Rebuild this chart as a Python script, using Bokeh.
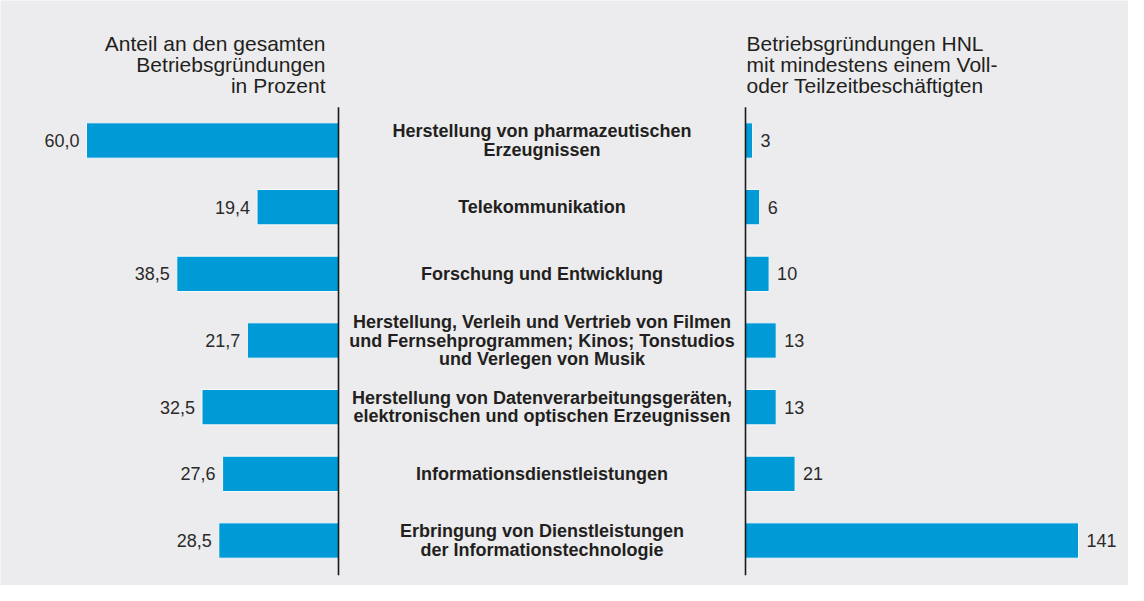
from bokeh.plotting import figure
from bokeh.models import Range1d, ColumnDataSource
from bokeh.core.properties import value
from bokeh.embed import file_html
from bokeh.resources import INLINE

categories = [
    "Herstellung von pharmazeutischen\nErzeugnissen",
    "Telekommunikation",
    "Forschung und Entwicklung",
    "Herstellung, Verleih und Vertrieb von Filmen\nund Fernsehprogrammen; Kinos; Tonstudios\nund Verlegen von Musik",
    "Herstellung von Datenverarbeitungsgeräten,\nelektronischen und optischen Erzeugnissen",
    "Informationsdienstleistungen",
    "Erbringung von Dienstleistungen\nder Informationstechnologie",
]
anteil = [60.0, 19.4, 38.5, 21.7, 32.5, 27.6, 28.5]
gruendungen = [3, 6, 10, 13, 13, 21, 141]
left_title = ["Anteil an den gesamten", "Betriebsgründungen", "in Prozent"]
right_title = ["Betriebsgründungen HNL", "mit mindestens einem Voll-", "oder Teilzeitbeschäftigten"]

W, H = 1128, 585
BG = "#ECECEE"
BLUE = "#009AD6"
FONT = "Liberation Sans"

# layout (pixels inside the figure)
row0, row_step = 140.0, 66.67
left_zero, left_ppu = 338.0, 4.2
right_zero, right_ppu = 745.0, 333.0 / 141.0
center_x = (left_zero + right_zero) / 2

p = figure(width=W, height=H, output_backend="svg", toolbar_location=None,
           x_range=Range1d(0, W),
           y_range=Range1d((H - row0) / row_step, -row0 / row_step),
           min_border=0, background_fill_color=BG, border_fill_color=BG)
p.outline_line_color = None
p.axis.visible = False
p.grid.visible = False

p.extra_x_ranges = {
    "left": Range1d(left_zero / left_ppu, -(W - left_zero) / left_ppu),
    "right": Range1d(-right_zero / right_ppu, (W - right_zero) / right_ppu),
}
p.extra_y_ranges = {"px": Range1d(H, 0)}

idx = list(range(len(categories)))
src = ColumnDataSource(dict(
    y=idx, cat=categories, anteil=anteil, gr=gruendungen,
    anteil_lbl=[f"{v:.1f}".replace(".", ",") for v in anteil],
    gr_lbl=[str(v) for v in gruendungen],
))

p.hbar(y="y", left=0, right="anteil", height=0.53, source=src, x_range_name="left",
       fill_color=BLUE, line_color="#F7F9FB", line_width=1)
p.hbar(y="y", left=0, right="gr", height=0.53, source=src, x_range_name="right",
       fill_color=BLUE, line_color="#F7F9FB", line_width=1)

# axis lines
p.segment(x0=[0], x1=[0], y0=[-0.5], y1=[6.52], x_range_name="left",
          line_color="#1a1a1a", line_width=1.6)
p.segment(x0=[0], x1=[0], y0=[-0.5], y1=[6.52], x_range_name="right",
          line_color="#1a1a1a", line_width=1.6)

# value labels
p.text(x="anteil", y="y", text="anteil_lbl", source=src, x_range_name="left",
       x_offset=-7, text_align="right", text_baseline="middle",
       text_font=value(FONT), text_font_size="18px", text_color="#2a2a2a")
p.text(x="gr", y="y", text="gr_lbl", source=src, x_range_name="right",
       x_offset=8, text_align="left", text_baseline="middle",
       text_font=value(FONT), text_font_size="18px", text_color="#2a2a2a")

# category labels
p.text(x=center_x, y="y", text="cat", source=src,
       text_align="center", text_baseline="middle", text_line_height=0.93,
       text_font=value(FONT), text_font_style="bold", text_font_size="18px",
       text_color="#231f20")

# headers
base = [42.7, 64, 85]
p.text(x=[325] * 3, y=base, text=left_title, y_range_name="px",
       text_align="right", text_baseline="alphabetic",
       text_font=value(FONT), text_font_size="21px", text_color="#231f20")
p.text(x=[746] * 3, y=base, text=right_title, y_range_name="px",
       text_align="left", text_baseline="alphabetic",
       text_font=value(FONT), text_font_size="21px", text_color="#231f20")

open("out.html", "w").write(file_html(p, INLINE))
